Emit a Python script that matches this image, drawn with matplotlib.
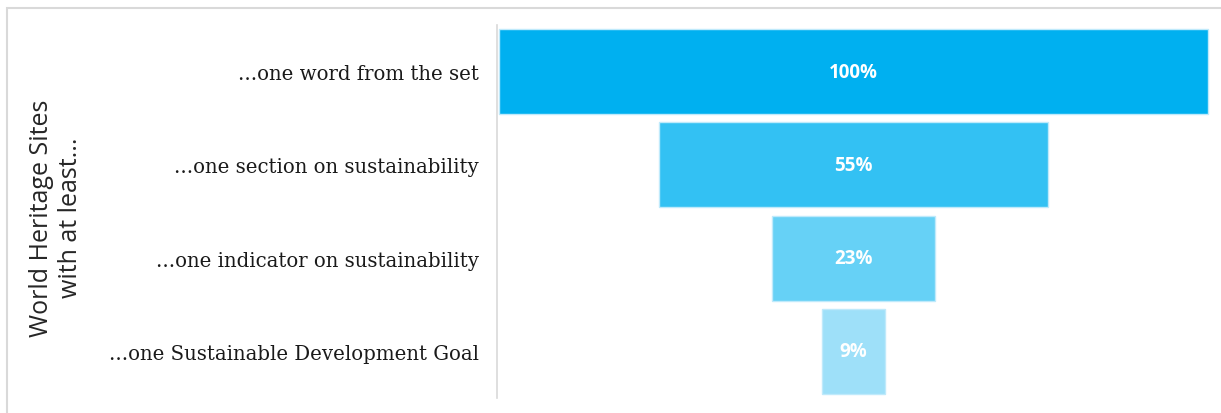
import matplotlib
matplotlib.use("Agg")
import matplotlib.pyplot as plt
from matplotlib.patches import Rectangle

categories = ["...one word from the set", "...one section on sustainability",
              "...one indicator on sustainability", "...one Sustainable Development Goal"]
values = [100, 55, 23, 9]
labels = ["100%", "55%", "23%", "9%"]
colors = ["#00B0F0", "#33C1F3", "#66D1F6", "#9EE0F9"]
ylabel = "World Heritage Sites\nwith at least..."

W, H = 1221, 414
fig = plt.figure(figsize=(W / 100, H / 100), dpi=100)
ax = fig.add_axes([497 / W, 1 - 399 / H, (1210 - 497) / W, (399 - 26) / H])

ypos = list(range(len(values)))
lefts = [(100 - v) / 2 for v in values]
ax.barh(ypos, values, left=lefts, height=0.91, color=colors,
        edgecolor="#BFEAFB", linewidth=1)
for y, l, v, t in zip(ypos, lefts, values, labels):
    ax.text(l + v / 2, y, t, ha="center", va="center", color="white",
            fontsize=13.5, fontweight="bold", family="Open Sans")

ax.set_xlim(-0.3, 100.3)
ax.set_ylim(3.5, -0.5)
ax.set_yticks(ypos)
ax.set_yticklabels(categories, family="DejaVu Serif", fontsize=14.2, color="#1A1A1A")
ax.tick_params(axis="y", length=0, pad=13)
ax.set_xticks([])
for s in ["top", "right", "bottom"]:
    ax.spines[s].set_visible(False)
ax.spines["left"].set_color("#D9D9D9")
ax.spines["left"].set_linewidth(1.2)

fig.text(56 / W, 1 - 218 / H, ylabel, rotation=90, ha="center", va="center",
         fontsize=18, family="Open Sans", color="#262626", linespacing=1.2)

fig.patches.append(Rectangle((7.5 / W, -0.1), 2, 1 - 8.5 / H + 0.1,
                             transform=fig.transFigure, fill=False,
                             edgecolor="#D9D9D9", linewidth=1.5))

fig.savefig("out.png", dpi=100)
